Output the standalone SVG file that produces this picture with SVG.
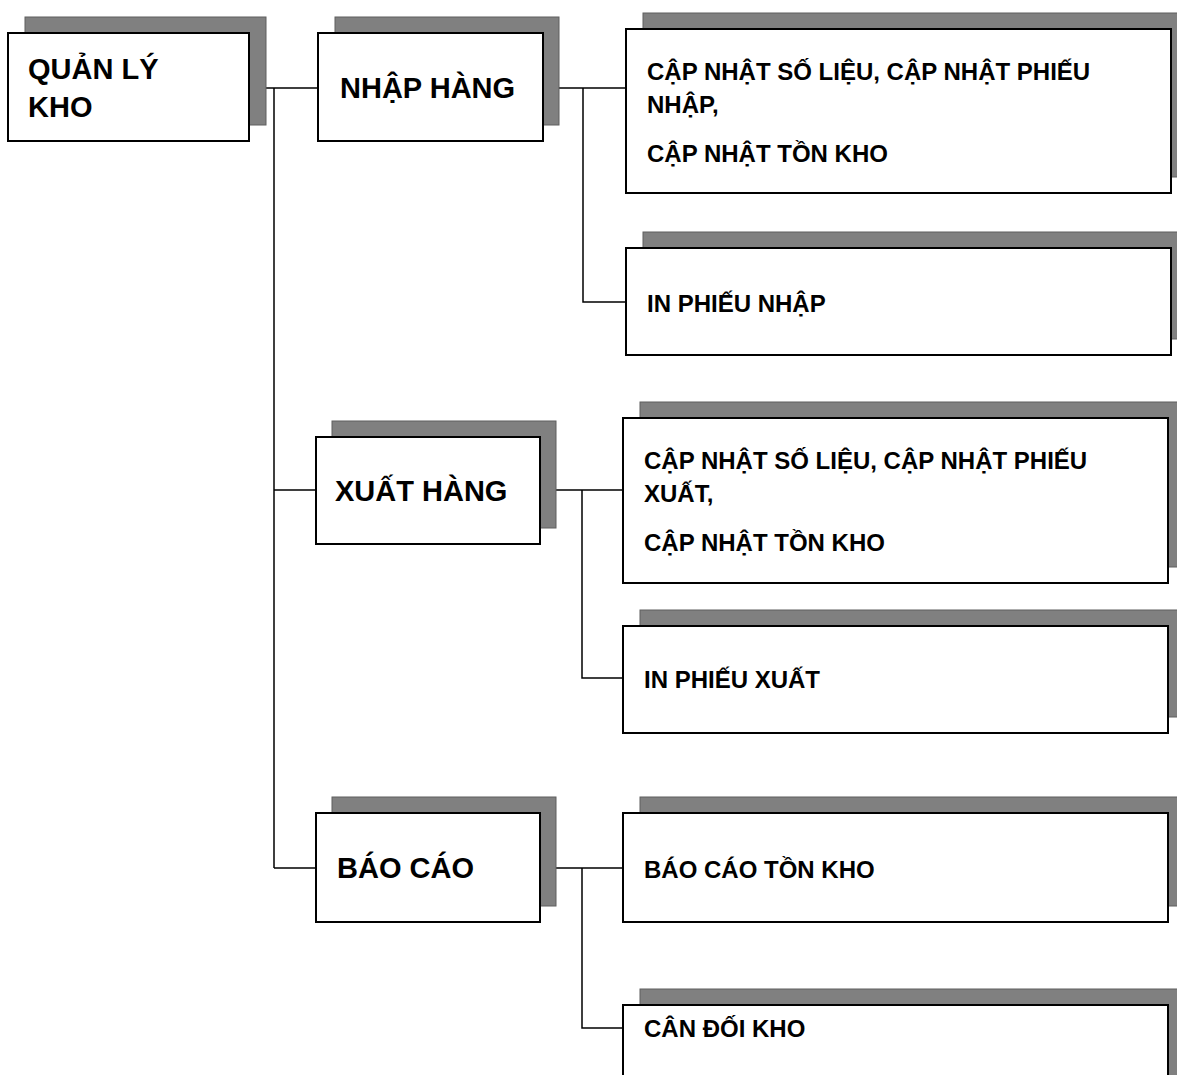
<svg xmlns="http://www.w3.org/2000/svg" width="1177" height="1075" viewBox="0 0 1177 1075">
<style>
.sh{fill:#808080;stroke:#5f5f5f;stroke-width:1}
.bx{fill:#ffffff;stroke:#000000;stroke-width:2}
.t{font-family:"Liberation Sans",Arial,sans-serif;font-weight:bold;fill:#000000}
.big{font-size:29px}
.small{font-size:24px}
.ln{fill:none;stroke:#000000;stroke-width:1.5}
</style>
<rect x="0" y="0" width="1177" height="1075" fill="#ffffff"/>
<g id="connectors">
<path class="ln" d="M249,88 H318 M274,88 V868 M274,490 H316 M274,868 H316"/>
<path class="ln" d="M543,88 H626 M583,88 V302 H626"/>
<path class="ln" d="M540,490 H623 M582,490 V678 H623"/>
<path class="ln" d="M540,868 H623 M582,868 V1028 H623"/>
</g>
<g id="node-quanlykho">
<rect class="sh" x="25" y="17" width="241" height="108"/>
<rect class="bx" x="8" y="33" width="241" height="108"/>
<text class="t big" x="28" y="79">QUẢN LÝ</text>
<text class="t big" x="28" y="117">KHO</text>
</g>
<g id="node-nhaphang">
<rect class="sh" x="335" y="17" width="224" height="108"/>
<rect class="bx" x="318" y="33" width="225" height="108"/>
<text class="t big" x="340" y="98">NHẬP HÀNG</text>
</g>
<g id="node-xuathang">
<rect class="sh" x="332" y="421" width="224" height="107"/>
<rect class="bx" x="316" y="437" width="224" height="107"/>
<text class="t big" x="335" y="501">XUẤT HÀNG</text>
</g>
<g id="node-baocao">
<rect class="sh" x="332" y="797" width="224" height="109"/>
<rect class="bx" x="316" y="813" width="224" height="109"/>
<text class="t big" x="337" y="878">BÁO CÁO</text>
</g>
<g id="node-capnhat-nhap">
<rect class="sh" x="643" y="13" width="560" height="164"/>
<rect class="bx" x="626" y="29" width="545" height="164"/>
<text class="t small" x="647" y="80">CẬP NHẬT SỐ LIỆU, CẬP NHẬT PHIẾU</text>
<text class="t small" x="647" y="113">NHẬP,</text>
<text class="t small" x="647" y="162">CẬP NHẬT TỒN KHO</text>
</g>
<g id="node-inphieunhap">
<rect class="sh" x="643" y="232" width="560" height="107"/>
<rect class="bx" x="626" y="248" width="545" height="107"/>
<text class="t small" x="647" y="312">IN PHIẾU NHẬP</text>
</g>
<g id="node-capnhat-xuat">
<rect class="sh" x="640" y="402" width="560" height="165"/>
<rect class="bx" x="623" y="418" width="545" height="165"/>
<text class="t small" x="644" y="469">CẬP NHẬT SỐ LIỆU, CẬP NHẬT PHIẾU</text>
<text class="t small" x="644" y="502">XUẤT,</text>
<text class="t small" x="644" y="551">CẬP NHẬT TỒN KHO</text>
</g>
<g id="node-inphieuxuat">
<rect class="sh" x="640" y="610" width="560" height="107"/>
<rect class="bx" x="623" y="626" width="545" height="107"/>
<text class="t small" x="644" y="688">IN PHIẾU XUẤT</text>
</g>
<g id="node-baocaotonkho">
<rect class="sh" x="640" y="797" width="560" height="109"/>
<rect class="bx" x="623" y="813" width="545" height="109"/>
<text class="t small" x="644" y="878">BÁO CÁO TỒN KHO</text>
</g>
<g id="node-candoikho">
<rect class="sh" x="640" y="989" width="560" height="110"/>
<rect class="bx" x="623" y="1005" width="545" height="110"/>
<text class="t small" x="644" y="1037">CÂN ĐỐI KHO</text>
</g>
</svg>
